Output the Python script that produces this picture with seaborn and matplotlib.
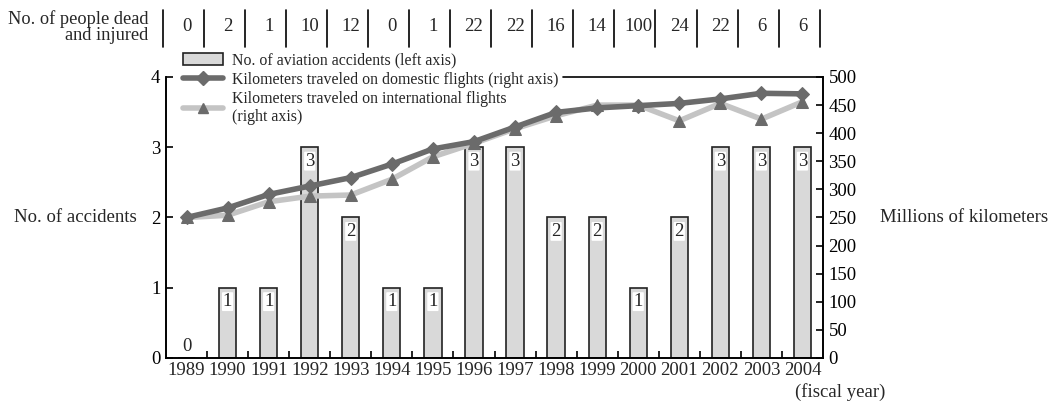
import numpy as np
import pandas as pd
import matplotlib
matplotlib.use("Agg")
import matplotlib.pyplot as plt
from matplotlib.patches import Patch
from matplotlib.lines import Line2D
from matplotlib.ticker import FixedLocator
import matplotlib.transforms as mtransforms
import seaborn as sns

# datos
years = ['1989', '1990', '1991', '1992', '1993', '1994', '1995', '1996',
         '1997', '1998', '1999', '2000', '2001', '2002', '2003', '2004']
accidents = [0, 1, 1, 3, 2, 1, 1, 3, 3, 2, 2, 1, 2, 3, 3, 3]
dead_injured = [0, 2, 1, 10, 12, 0, 1, 22, 22, 16, 14, 100, 24, 22, 6, 6]
km_domestic = [250, 267, 291, 306, 321, 345, 372, 385,
               411, 437, 445, 449, 453, 461, 471, 470]
km_international = [250, 254, 278, 288, 290, 318, 358, 382,
                    408, 431, 450, 450, 422, 453, 425, 456]

df = pd.DataFrame({'year': years, 'accidents': accidents,
                   'domestic': km_domestic, 'international': km_international})
df['pos'] = np.arange(len(df))

sns.set_theme(style="white")
plt.rcParams['font.family'] = ['Liberation Serif', 'DejaVu Serif']
fs = 13.5
leg_fs = 11.4
plt.rcParams['font.size'] = fs

dark = '#6b6b6b'
light = '#c4c4c4'
bar_fill = '#d9d9d9'

fig = plt.figure(figsize=(10.52, 4.03), dpi=100)
ax = fig.add_axes([166 / 1052, 45 / 403, 657 / 1052, 281 / 403])

# barras de accidentes (eje izquierdo)
sns.barplot(data=df, x='year', y='accidents', ax=ax, color=bar_fill,
            edgecolor='#222222', linewidth=1.2, width=0.42, saturation=1)
ax.set_ylim(0, 4)
ax.set_xlim(-0.5, len(years) - 0.5)
ax.set_yticks([0, 1, 2, 3, 4])
ax.set_xlabel('')
ax.set_ylabel('')
ax.tick_params(axis='y', direction='in', length=5, width=1.2, left=True,
               labelsize=fs, pad=4, colors='black')
ax.tick_params(axis='x', which='major', length=0, labelsize=fs, pad=3)
ax.xaxis.set_minor_locator(FixedLocator(df['pos'].values[:-1] + 0.5))
ax.tick_params(axis='x', which='minor', direction='in', length=5, width=1.2,
               bottom=True, color='black')

for i, v in enumerate(accidents):
    ax.annotate(str(v), (i, v), xytext=(0, -10 if v > 0 else 8),
                textcoords='offset points', ha='center', va='center',
                fontsize=fs,
                bbox=dict(boxstyle='round,pad=0.05', fc='white', ec='none'))

# lineas de kilometros (eje derecho)
ax2 = ax.twinx()
sns.lineplot(data=df, x='pos', y='international', ax=ax2, color=light,
             linewidth=4, marker='^', markersize=8, markerfacecolor=dark,
             markeredgecolor=dark)
sns.lineplot(data=df, x='pos', y='domestic', ax=ax2, color=dark,
             linewidth=4, marker='D', markersize=7.5, markerfacecolor=dark,
             markeredgecolor=dark)
ax2.set_ylim(0, 500)
ax2.set_yticks(range(0, 501, 50))
ax2.set_ylabel('')
ax2.set_xlabel('')
ax2.tick_params(axis='y', direction='in', length=5, width=1.2, right=True,
                labelsize=fs, pad=4, colors='black')

for a in (ax, ax2):
    for s in a.spines.values():
        s.set_color('black')
        s.set_linewidth(1.2)
    a.spines['top'].set_visible(False)
    a.grid(False)

# linea superior solo a la derecha de la leyenda
ax.plot([9.18, len(years) - 0.5], [1, 1], transform=mtransforms.blended_transform_factory(
    ax.transData, ax.transAxes), color='black', linewidth=1.2, clip_on=False)

# leyenda
handles = [Patch(facecolor=bar_fill, edgecolor='#222222', linewidth=1.2),
           Line2D([], [], color=dark, linewidth=4, marker='D', markersize=7,
                  markerfacecolor=dark, markeredgecolor=dark),
           Line2D([], [], color=light, linewidth=4, marker='^', markersize=7.5,
                  markerfacecolor=dark, markeredgecolor=dark)]
labels = ['No. of aviation accidents (left axis)',
          'Kilometers traveled on domestic flights (right axis)',
          'Kilometers traveled on international flights\n(right axis)']
leg = ax2.legend(handles, labels, loc='upper left',
                 bbox_to_anchor=(181 / 1052, 1 - 51 / 403),
                 bbox_transform=fig.transFigure, frameon=False, fontsize=leg_fs,
                 handlelength=2.55, handleheight=0.8, handletextpad=0.55,
                 labelspacing=0.2, borderpad=0.1, borderaxespad=0)
for t in leg.get_texts():
    t.set_linespacing(1.15)

# fila de muertos y heridos
trans = mtransforms.blended_transform_factory(ax.transData, ax.transAxes)
for i, n in enumerate(dead_injured):
    ax.text(i, 1.178, str(n), transform=trans, ha='center', va='center',
            fontsize=fs, clip_on=False)
for b in np.arange(len(years) + 1) - 0.5 - 0.08:
    ax.plot([b, b], [1.107, 1.238], transform=trans, color='black',
            linewidth=1.2, clip_on=False)
fig.text(148 / 1052, 1 - 27 / 403, 'No. of people dead\nand injured',
         ha='right', va='center', fontsize=13.2, multialignment='right',
         linespacing=0.95)

# etiquetas de ejes
fig.text(137 / 1052, 1 - 217 / 403, 'No. of accidents', ha='right',
         va='center', fontsize=fs)
fig.text(880 / 1052, 1 - 217 / 403, 'Millions of kilometers', ha='left',
         va='center', fontsize=fs)
fig.text(840 / 1052, 1 - 392 / 403, '(fiscal year)', ha='center',
         va='center', fontsize=fs)

fig.savefig('out.png', dpi=100)
